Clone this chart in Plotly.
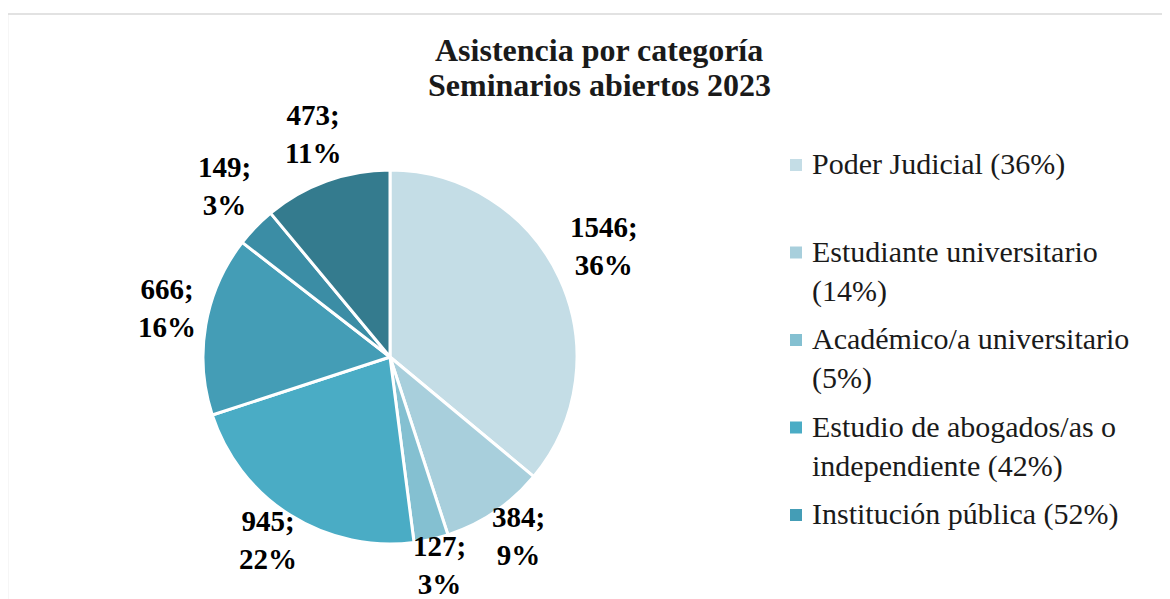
import math
import plotly.graph_objects as go

# ---- data ----
categories = ["Poder Judicial", "Estudiante universitario", "Académico/a universitario",
              "Estudio de abogados/as o independiente", "Institución pública",
              "Categoría 6", "Categoría 7"]
values = [1546, 384, 127, 945, 666, 149, 473]
colors = ["#c4dde6", "#a8cfdc", "#84c0d1", "#4aacc5", "#449db6", "#3b8da5", "#347b8e"]

legend_labels = ["Poder Judicial (36%)", "Estudiante universitario<br>(14%)",
                 "Académico/a universitario<br>(5%)",
                 "Estudio de abogados/as o<br>independiente (42%)",
                 "Institución pública (52%)"]

title_lines = ["Asistencia por categoría", "Seminarios abiertos 2023"]

# ---- layout helpers (page pixels -> paper; page body has an 8px margin) ----
W, H = 1170, 599
OFF = 8
FONT = "Liberation Serif, Times New Roman, DejaVu Serif, serif"


def px(x):
    return (x - OFF) / W


def py(y):
    return 1 - (y - OFF) / H


CX, CY, R = 390, 357, 187   # pie centre / radius in page pixels

fig = go.Figure()
fig.add_trace(go.Pie(
    labels=categories,
    values=values,
    sort=False,
    direction="clockwise",
    rotation=0,
    marker=dict(colors=colors, line=dict(color="white", width=3)),
    textinfo="none",
    domain=dict(x=[px(CX - R), px(CX + R)], y=[py(CY + R), py(CY - R)]),
    showlegend=False,
    hoverinfo="label+value+percent",
))

# data labels placed just outside each slice, from the slice's mid-angle
LBL = 29
GAP = 10
LIFT = 10.5
total = sum(values)
annotations = []
cum = 0
for v in values:
    mid = (cum + v / 2) / total
    cum += v
    th = 2 * math.pi * mid
    s, c = math.sin(th), -math.cos(th)
    txt1 = f"{v};"
    hw = 0.5 * LBL * (0.5 * (len(txt1) - 1) + 0.33)
    hh = 0.5 * LBL * 1.46
    d = R + GAP + abs(s) * hw + abs(c) * hh
    pct = round(100 * v / total)
    annotations.append(dict(xref="paper", yref="paper",
                            x=px(CX + d * s), y=py(CY + d * c - LIFT),
                            xanchor="center", yanchor="middle", showarrow=False,
                            text=f"{txt1}<br>{pct}%",
                            font=dict(family=FONT, size=LBL, color="black", weight="bold")))

# title (two lines)
for i, line in enumerate(title_lines):
    annotations.append(dict(xref="paper", yref="paper", x=px(599), y=py(50 + 35 * i),
                            xanchor="center", yanchor="middle", showarrow=False,
                            text=line,
                            font=dict(family=FONT, size=32, color="#1a1a1a", weight="bold")))

shapes = [dict(type="rect", xref="paper", yref="paper",
               x0=px(7.5), x1=1.05, y0=-0.05, y1=py(14),
               line=dict(color="#d9d9d9", width=1.5), fillcolor="rgba(0,0,0,0)")]
first_line_y = 165
step = 87.5
for i, lab in enumerate(legend_labels):
    yc = first_line_y + i * step
    shapes.append(dict(type="rect", xref="paper", yref="paper",
                       x0=px(790), x1=px(802),
                       y0=py(yc + 6), y1=py(yc - 6),
                       line=dict(width=0), fillcolor=colors[i]))
    annotations.append(dict(xref="paper", yref="paper", x=px(810), y=py(yc - 20),
                            xanchor="left", yanchor="top", align="left",
                            showarrow=False, text=lab,
                            font=dict(family=FONT, size=30, color="#1a1a1a")))

fig.update_layout(
    width=W, height=H,
    margin=dict(l=0, r=0, t=0, b=0, autoexpand=False),
    paper_bgcolor="white",
    plot_bgcolor="white",
    shapes=shapes,
    annotations=annotations,
)

fig.write_html("out.html")
